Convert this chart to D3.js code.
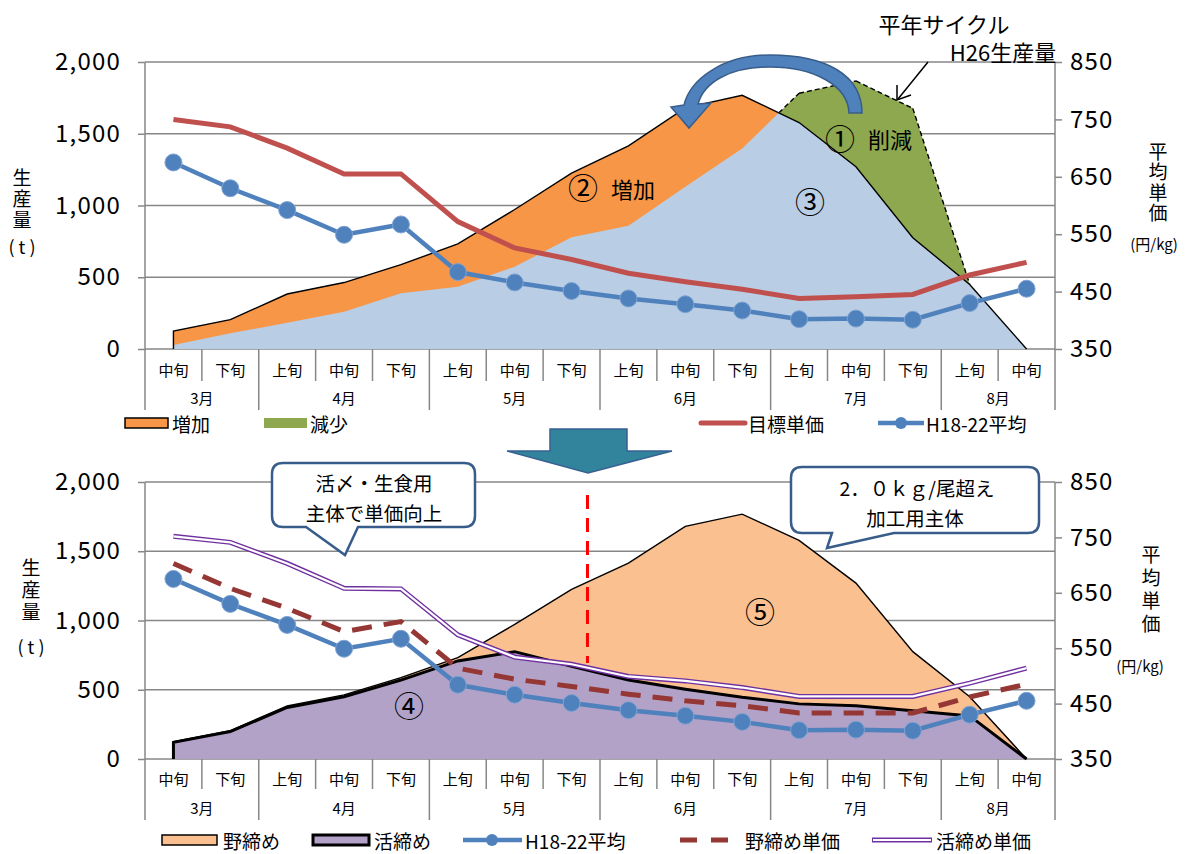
<!DOCTYPE html>
<html><head><meta charset="utf-8">
<script src="https://cdn.jsdelivr.net/npm/d3@7"></script>
<style>
body{margin:0;background:#fff}
text{font-family:"Noto Sans CJK JP","Noto Sans",sans-serif;fill:#000}
</style></head>
<body><svg id="c" width="1187" height="854"></svg>
<script>
// ---------- data ----------
const periodLabels = ["中旬","下旬","上旬","中旬","下旬","上旬","中旬","下旬","上旬","中旬","下旬","上旬","中旬","下旬","上旬","中旬"];
const monthLabels = ["3月","4月","5月","6月","7月","8月"];
const monthSpans = [2,3,3,3,3,2];
const qtyTicks = [0,500,1000,1500,2000];
const priceTicks = [350,450,550,650,750,850];

// top chart
const planProduction = [125,205,383,463,588,732,972,1225,1415,1680,1768,1578,1270,775,450,0];
const h26Production  = [28,109,183,260,388,434,574,778,859,1131,1398,1782,1868,1677,450,0];
const targetPrice    = [750,737,700,655,655,572,526,506,482,467,454,438,441,445,479,501];
const avgPriceH18_22 = [675,630,592,549,567,484,466,451,438,428,417,402,403,401,430,455];

// bottom chart
const ikeShime       = [120,198,372,450,570,708,775,670,571,504,446,398,385,349,311,0];
const noShime        = [5,7,11,13,18,24,197,555,844,1176,1322,1180,885,426,139,0];
const noShimePrice   = [703,658,622,580,598,514,494,481,467,455,446,433,433,433,462,485];
const ikeShimePrice  = [752,741,703,658,657,574,534,521,499,491,479,463,463,463,487,514];

// ---------- helpers ----------
const svg = d3.select("#c");
const X0 = 145, X1 = 1055;
const n = periodLabels.length;
const x = d3.scaleBand().domain(d3.range(n)).range([X0, X1]).paddingInner(0).paddingOuter(0);
const bw = x.bandwidth();
const xi = d3.scaleLinear().domain([0, n-1]).range([x(0)+bw/2, x(n-1)+bw/2]);
const GRID = "#878787";

function frame(yTop, yBot, yQ, yP, catY, monY, shortY, longY) {
  const g = svg.append("g");
  g.selectAll(null).data(qtyTicks).join("line")
    .attr("x1", X0).attr("x2", X1).attr("y1", d=>yQ(d)).attr("y2", d=>yQ(d))
    .attr("stroke", GRID).attr("stroke-width", 1.5);
  const la = g.append("g").attr("transform", `translate(${X0},0)`)
    .call(d3.axisLeft(yQ).tickValues(qtyTicks).tickSize(7).tickPadding(17).tickFormat(d3.format(",")));
  la.select(".domain").remove();
  la.selectAll("line").attr("stroke", GRID).attr("stroke-width", 1.5);
  la.selectAll("text").style("font-size","24px").style("letter-spacing","1.2px").attr("fill","#000");
  const ra = g.append("g").attr("transform", `translate(${X1},0)`)
    .call(d3.axisRight(yP).tickValues(priceTicks).tickSize(7).tickPadding(8));
  ra.select(".domain").remove();
  ra.selectAll("line").attr("stroke", GRID).attr("stroke-width", 1.5);
  ra.selectAll("text").style("font-size","24px").style("letter-spacing","1.2px").attr("fill","#000");
  g.append("line").attr("x1",X0).attr("x2",X0).attr("y1",yTop).attr("y2",longY).attr("stroke",GRID).attr("stroke-width",1.5);
  g.append("line").attr("x1",X1).attr("x2",X1).attr("y1",yTop).attr("y2",longY).attr("stroke",GRID).attr("stroke-width",1.5);
  const monthBounds = new Set(d3.cumsum(monthSpans));
  for (let i = 1; i < n; i++) {
    const xx = x(i);
    g.append("line").attr("x1",xx).attr("x2",xx).attr("y1",yBot)
      .attr("y2", monthBounds.has(i) ? longY : shortY).attr("stroke",GRID).attr("stroke-width",1.5);
  }
  g.selectAll(null).data(periodLabels).join("text")
    .attr("x",(d,i)=>x(i)+bw/2).attr("y",catY).attr("text-anchor","middle").attr("dominant-baseline","central")
    .style("font-size","15px").text(d=>d);
  let start = 0;
  monthLabels.forEach((m,k)=>{
    const s = start, e = start + monthSpans[k];
    g.append("text").attr("x",(x(s)+x(e-1)+bw)/2).attr("y",monY).attr("text-anchor","middle")
      .attr("dominant-baseline","central").style("font-size","15px").text(m);
    start = e;
  });
  return g;
}

function vtext(str, xx, yTop, size, spacing) {
  svg.append("text").attr("x",xx).attr("y",yTop)
    .style("writing-mode","vertical-rl").style("font-size",size+"px").style("letter-spacing",spacing+"px")
    .text(str);
}
function htext(str, xx, yy, size, anchor) {
  return svg.append("text").attr("x",xx).attr("y",yy).attr("text-anchor",anchor||"middle")
    .attr("dominant-baseline","central").style("font-size",size+"px").text(str);
}

function areaPath(yQ, vals, base) {
  return d3.area().x((d,i)=>xi(i)).y0((d,i)=>yQ(base?base[i]:0)).y1((d,i)=>yQ(d + (base?base[i]:0)))(vals);
}
function edgeLine(yQ, vals) {
  const pts = [[xi(0), yQ(0)]].concat(vals.map((d,i)=>[xi(i), yQ(d)]));
  return d3.line()(pts);
}
function priceLine(yP, vals) { return d3.line().x((d,i)=>xi(i)).y(d=>yP(d))(vals); }

function densePoints(a, b) {
  const pts = [];
  for (let i = 0; i < a.length; i++) {
    pts.push({t:i, a:a[i], b:b[i]});
    if (i < a.length-1) {
      const d0 = b[i]-a[i], d1 = b[i+1]-a[i+1];
      if (d0*d1 < 0) {
        const f = d0/(d0-d1);
        const v = a[i] + (a[i+1]-a[i])*f;
        pts.push({t:i+f, a:v, b:v});
      }
    }
  }
  return pts;
}

// ================= TOP CHART =================
const yQ1 = d3.scaleLinear().domain([0,2000]).range([349,62]);
const yP1 = d3.scaleLinear().domain([350,850]).range([349,62]);
frame(62, 349, yQ1, yP1, 369, 397, 381, 410);

const dp = densePoints(planProduction, h26Production);
svg.append("path").attr("d", areaPath(yQ1, h26Production)).attr("fill","#8DA84E");
svg.append("path").attr("d", areaPath(yQ1, planProduction)).attr("fill","#F79646");
svg.append("path").attr("d", d3.area().x(p=>xi(p.t)).y0(yQ1(0)).y1(p=>yQ1(Math.min(p.a,p.b)))(dp)).attr("fill","#B9CDE5");
svg.append("path").attr("d", edgeLine(yQ1, planProduction)).attr("fill","none").attr("stroke","#000").attr("stroke-width",1.4);
let dashD = "";
for (let k = 0; k < dp.length-1; k++) {
  const p = dp[k], q = dp[k+1];
  if (p.b >= p.a && q.b >= q.a && (p.b-p.a)+(q.b-q.a) > 0) {
    dashD += `M${xi(p.t)},${yQ1(p.b)}L${xi(q.t)},${yQ1(q.b)}`;
  }
}
svg.append("path").attr("d", dashD).attr("fill","none").attr("stroke","#000").attr("stroke-width",1.4).attr("stroke-dasharray","5,3");

svg.append("path").attr("d", priceLine(yP1, targetPrice)).attr("fill","none").attr("stroke","#C0504D").attr("stroke-width",5);
svg.append("path").attr("d", priceLine(yP1, avgPriceH18_22)).attr("fill","none").attr("stroke","#4F81BD").attr("stroke-width",4.5);
svg.selectAll(null).data(avgPriceH18_22).join("circle").attr("cx",(d,i)=>xi(i)).attr("cy",d=>yP1(d)).attr("r",8.5)
  .attr("fill","#4F81BD").attr("stroke","#7FA3D3").attr("stroke-width",1);

// curved arrow
svg.append("path")
  .attr("d","M862,113 C862,75 826,55 770,55 C722,55 690,80 684,105 L671,107 L689,128 L711,103 L698,104 C704,82 730,67 770,67 C813,67 848,85 849,113 Z")
  .attr("fill","#4F81BD").attr("stroke","#385D8A").attr("stroke-width",1.5);

// annotations top
htext("平年サイクル", 944, 23, 22);
htext("H26生産量", 1003, 51, 22);
svg.append("line").attr("x1",928).attr("y1",62).attr("x2",898).attr("y2",99).attr("stroke","#000").attr("stroke-width",1.5);
svg.append("path").attr("d","M897,85 L897,100 L911,95").attr("fill","none").attr("stroke","#000").attr("stroke-width",1.5);
htext("①", 840, 137, 30);
htext("削減", 890, 138, 22);
htext("②", 583, 186, 30);
htext("増加", 633, 188, 22);
htext("③", 810, 200, 30);

// axis titles top
vtext("生産量", 22, 168, 19, 2);
htext("( t )", 22, 246, 18);
vtext("平均単価", 1158, 142, 19, 1.5);
htext("(円/kg)", 1154, 243, 15);

// legend top
const TY = 423;
svg.append("rect").attr("x",125).attr("y",TY-5).attr("width",43).attr("height",10).attr("fill","#F79646").attr("stroke","#000").attr("stroke-width",1.5);
htext("増加", 172, TY, 19, "start");
svg.append("rect").attr("x",264).attr("y",TY-5).attr("width",43).attr("height",10).attr("fill","#8DA84E");
htext("減少", 310, TY, 19, "start");
svg.append("line").attr("x1",701).attr("x2",745).attr("y1",TY).attr("y2",TY).attr("stroke","#C0504D").attr("stroke-width",5).attr("stroke-linecap","round");
htext("目標単価", 748, TY, 19, "start");
svg.append("line").attr("x1",878).attr("x2",924).attr("y1",TY).attr("y2",TY).attr("stroke","#4F81BD").attr("stroke-width",4.5);
svg.append("circle").attr("cx",901).attr("cy",TY).attr("r",6).attr("fill","#4F81BD");
htext("H18-22平均", 926, TY, 19, "start");

// big down arrow
svg.append("path").attr("d","M550,429 H627 V451 H672 L588,473 L507,451 H550 Z")
  .attr("fill","#31849B").attr("stroke","#376092").attr("stroke-width",1.5);

// ================= BOTTOM CHART =================
const yQ2 = d3.scaleLinear().domain([0,2000]).range([759,482]);
const yP2 = d3.scaleLinear().domain([350,850]).range([759,482]);
frame(482, 759, yQ2, yP2, 778, 807, 789, 820);

svg.append("path").attr("d", areaPath(yQ2, ikeShime)).attr("fill","#B3A2C7");
svg.append("path").attr("d", areaPath(yQ2, noShime, ikeShime)).attr("fill","#FAC090");
const totalBottom = noShime.map((d,i)=>d+ikeShime[i]);
svg.append("path").attr("d", edgeLine(yQ2, totalBottom)).attr("fill","none").attr("stroke","#000").attr("stroke-width",1.4);
svg.append("path").attr("d", edgeLine(yQ2, ikeShime)).attr("fill","none").attr("stroke","#000").attr("stroke-width",3);

svg.append("line").attr("x1",xi(7.28)).attr("x2",xi(7.28)).attr("y1",495).attr("y2",663)
  .attr("stroke","#FF0000").attr("stroke-width",3).attr("stroke-dasharray","14,9");

svg.append("path").attr("d", priceLine(yP2, noShimePrice)).attr("fill","none").attr("stroke","#953735").attr("stroke-width",5).attr("stroke-dasharray","20,12");
svg.append("path").attr("d", priceLine(yP2, ikeShimePrice)).attr("fill","none").attr("stroke","#7030A0").attr("stroke-width",5);
svg.append("path").attr("d", priceLine(yP2, ikeShimePrice)).attr("fill","none").attr("stroke","#fff").attr("stroke-width",2.2);
svg.append("path").attr("d", priceLine(yP2, avgPriceH18_22)).attr("fill","none").attr("stroke","#4F81BD").attr("stroke-width",4.5);
svg.selectAll(null).data(avgPriceH18_22).join("circle").attr("cx",(d,i)=>xi(i)).attr("cy",d=>yP2(d)).attr("r",8.5)
  .attr("fill","#4F81BD").attr("stroke","#7FA3D3").attr("stroke-width",1);

htext("④", 409, 704, 30);
htext("⑤", 760, 610, 30);

function callout(x0,y0,x1,y1,r,tb1,tip,tb2){
  return `M${x0+r},${y0} H${x1-r} Q${x1},${y0} ${x1},${y0+r} V${y1-r} Q${x1},${y1} ${x1-r},${y1} H${tb2} L${tip[0]},${tip[1]} L${tb1},${y1} H${x0+r} Q${x0},${y1} ${x0},${y1-r} V${y0+r} Q${x0},${y0} ${x0+r},${y0} Z`;
}
svg.append("path").attr("d",callout(272,463,475,527,11,306,[345,555],358)).attr("fill","#fff").attr("stroke","#385D8A").attr("stroke-width",2.5);
htext("活〆・生食用", 374, 482, 19.5);
htext("主体で単価向上", 374, 512, 19.5);
svg.append("path").attr("d",callout(791,467,1039,533,11,832,[827,548],894)).attr("fill","#fff").attr("stroke","#385D8A").attr("stroke-width",2.5);
htext("2．０ｋｇ/尾超え", 917, 487, 19.5);
htext("加工用主体", 915, 517, 19.5);

// axis titles bottom
vtext("生産量", 31, 558, 19, 3);
htext("( t )", 31, 646, 18);
vtext("平均単価", 1151, 545, 19, 4);
htext("(円/kg)", 1140, 665, 15);

// legend bottom
const LY = 840;
svg.append("rect").attr("x",162).attr("y",LY-5).attr("width",55).attr("height",10).attr("fill","#FAC090").attr("stroke","#000").attr("stroke-width",1.5);
htext("野締め", 223, LY, 19, "start");
svg.append("rect").attr("x",313).attr("y",LY-5).attr("width",56).attr("height",10).attr("fill","#B3A2C7").attr("stroke","#000").attr("stroke-width",3);
htext("活締め", 374, LY, 19, "start");
svg.append("line").attr("x1",463).attr("x2",522).attr("y1",LY).attr("y2",LY).attr("stroke","#4F81BD").attr("stroke-width",4.5);
svg.append("circle").attr("cx",492).attr("cy",LY).attr("r",6).attr("fill","#4F81BD");
htext("H18-22平均", 525, LY, 19, "start");
svg.append("line").attr("x1",680).attr("x2",734).attr("y1",LY).attr("y2",LY).attr("stroke","#953735").attr("stroke-width",5).attr("stroke-dasharray","17,14");
htext("野締め単価", 745, LY, 19, "start");
svg.append("line").attr("x1",872).attr("x2",932).attr("y1",LY).attr("y2",LY).attr("stroke","#7030A0").attr("stroke-width",5);
svg.append("line").attr("x1",873).attr("x2",931).attr("y1",LY).attr("y2",LY).attr("stroke","#fff").attr("stroke-width",2.2);
htext("活締め単価", 936, LY, 19, "start");
</script></body></html>
